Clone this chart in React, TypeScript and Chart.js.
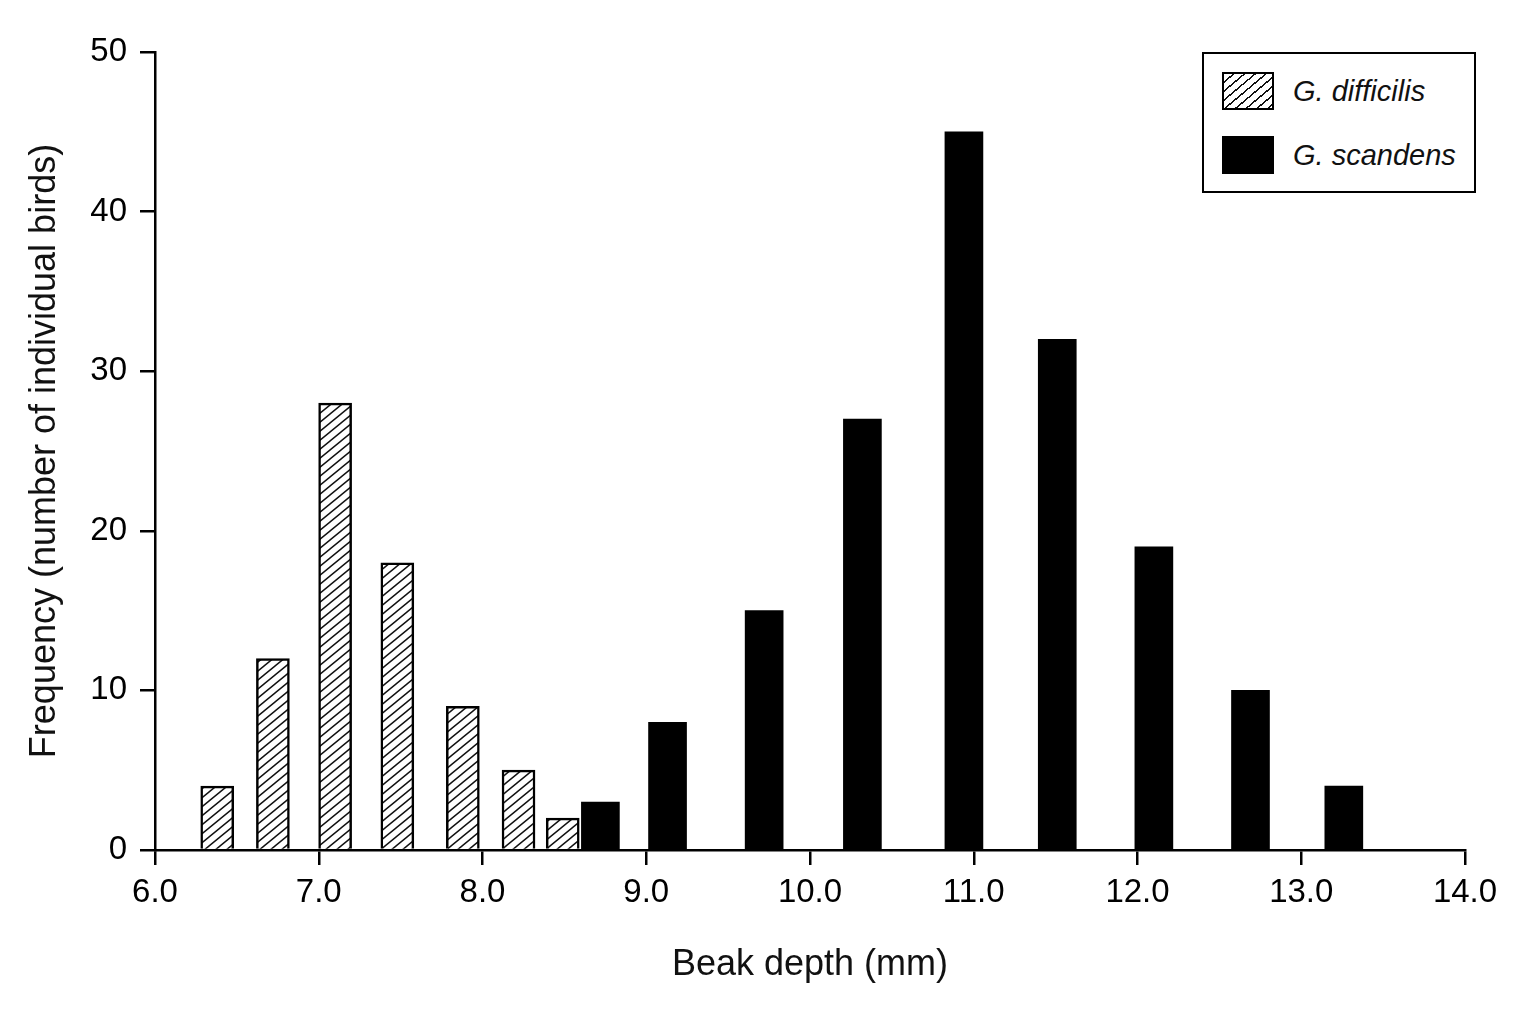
import { useEffect, useRef } from "react";
import { Chart, registerables } from "chart.js";

Chart.register(...registerables);

// beak depth (mm) at bar centre, number of birds
const difficilisDepth = [6.38, 6.72, 7.1, 7.48, 7.88, 8.22, 8.49];
const difficilisCount = [4, 12, 28, 18, 9, 5, 2];
const scandensDepth = [8.72, 9.13, 9.72, 10.32, 10.94, 11.51, 12.1, 12.69, 13.26];
const scandensCount = [3, 8, 15, 27, 45, 32, 19, 10, 4];

const seriesNames = ["G. difficilis", "G. scandens"];
const xTitle = "Beak depth (mm)";
const yTitle = "Frequency (number of individual birds)";

const FONT = "'Liberation Sans', Arial, Helvetica, sans-serif";

// diagonal hatch, lines rising to the right
function makeHatch(ctx: CanvasRenderingContext2D) {
  const w = 11;
  const h = 9;
  const c = document.createElement("canvas");
  c.width = w;
  c.height = h;
  const g = c.getContext("2d")!;
  g.fillStyle = "#fff";
  g.fillRect(0, 0, w, h);
  g.strokeStyle = "#111";
  g.lineWidth = 1.5;
  g.beginPath();
  g.moveTo(-w, 2 * h);
  g.lineTo(2 * w, -h);
  g.moveTo(-w, h);
  g.lineTo(w, -h);
  g.moveTo(0, 2 * h);
  g.lineTo(2 * w, 0);
  g.stroke();
  return ctx.createPattern(c, "repeat")!;
}

export default function App() {
  const canvasRef = useRef<HTMLCanvasElement>(null);

  useEffect(() => {
    if (!canvasRef.current) return;
    const ctx = canvasRef.current.getContext("2d")!;
    const hatch = makeHatch(ctx);

    const chart = new Chart(canvasRef.current, {
      type: "bar",
      data: {
        datasets: [
          {
            label: seriesNames[0],
            data: difficilisDepth.map((x, i) => ({ x, y: difficilisCount[i] })),
            backgroundColor: hatch,
            borderColor: "#000",
            borderWidth: 2.5,
            barThickness: 33,
            grouped: false,
          },
          {
            label: seriesNames[1],
            data: scandensDepth.map((x, i) => ({ x, y: scandensCount[i] })),
            backgroundColor: "#000",
            borderWidth: 0,
            barThickness: 38,
            grouped: false,
          },
        ],
      },
      options: {
        animation: false,
        responsive: true,
        maintainAspectRatio: false,
        layout: { padding: { left: 0, top: 52, right: 71, bottom: 0 } },
        plugins: {
          legend: { display: false },
          tooltip: { enabled: false },
        },
        scales: {
          x: {
            type: "linear",
            min: 6,
            max: 14,
            offset: false,
            afterFit: (scale) => {
              scale.height = 174;
            },
            ticks: {
              stepSize: 1,
              color: "#000",
              padding: 8,
              font: { family: FONT, size: 33 },
              callback: (v) => Number(v).toFixed(1),
            },
            grid: {
              offset: false,
              drawOnChartArea: false,
              drawTicks: true,
              tickLength: 15,
              color: "#000",
              lineWidth: 2.5,
            },
            border: { display: true, color: "#000", width: 2.5 },
            title: {
              display: true,
              text: xTitle,
              color: "#111",
              font: { family: FONT, size: 36 },
              padding: { top: 0, bottom: 37 },
            },
          },
          y: {
            min: 0,
            max: 50,
            afterFit: (scale) => {
              scale.width = 155;
            },
            ticks: {
              stepSize: 10,
              color: "#000",
              padding: 13,
              font: { family: FONT, size: 33 },
            },
            grid: {
              offset: false,
              drawOnChartArea: false,
              drawTicks: true,
              tickLength: 15,
              color: "#000",
              lineWidth: 2.5,
            },
            border: { display: true, color: "#000", width: 2.5 },
            title: {
              display: true,
              text: yTitle,
              color: "#111",
              font: { family: FONT, size: 36 },
              padding: { top: 23, bottom: 0 },
            },
          },
        },
      },
    });

    return () => {
      chart.destroy();
    };
  }, []);

  return (
    <div
      style={{
        position: "absolute",
        left: 0,
        top: 0,
        width: 1536,
        height: 1024,
        background: "#fff",
        fontFamily: FONT,
      }}
    >
      <canvas ref={canvasRef}></canvas>
      <div
        style={{
          position: "absolute",
          left: 1202,
          top: 52,
          width: 274,
          height: 141,
          boxSizing: "border-box",
          border: "2.5px solid #000",
          background: "#fff",
        }}
      >
        {seriesNames.map((name, i) => (
          <div
            key={name}
            style={{
              position: "absolute",
              left: 18,
              top: 18 + i * 64,
              display: "flex",
              alignItems: "center",
              height: 38,
            }}
          >
            <div
              style={{
                width: 52,
                height: 38,
                boxSizing: "border-box",
                border: i === 0 ? "2px solid #000" : "none",
                background:
                  i === 0
                    ? "repeating-linear-gradient(140deg, #fff 0px, #fff 5.4px, #111 5.4px, #111 6.9px)"
                    : "#000",
              }}
            ></div>
            <span
              style={{
                marginLeft: 19,
                fontStyle: "italic",
                fontSize: 29,
                color: "#111",
                whiteSpace: "nowrap",
              }}
            >
              {name}
            </span>
          </div>
        ))}
      </div>
    </div>
  );
}
